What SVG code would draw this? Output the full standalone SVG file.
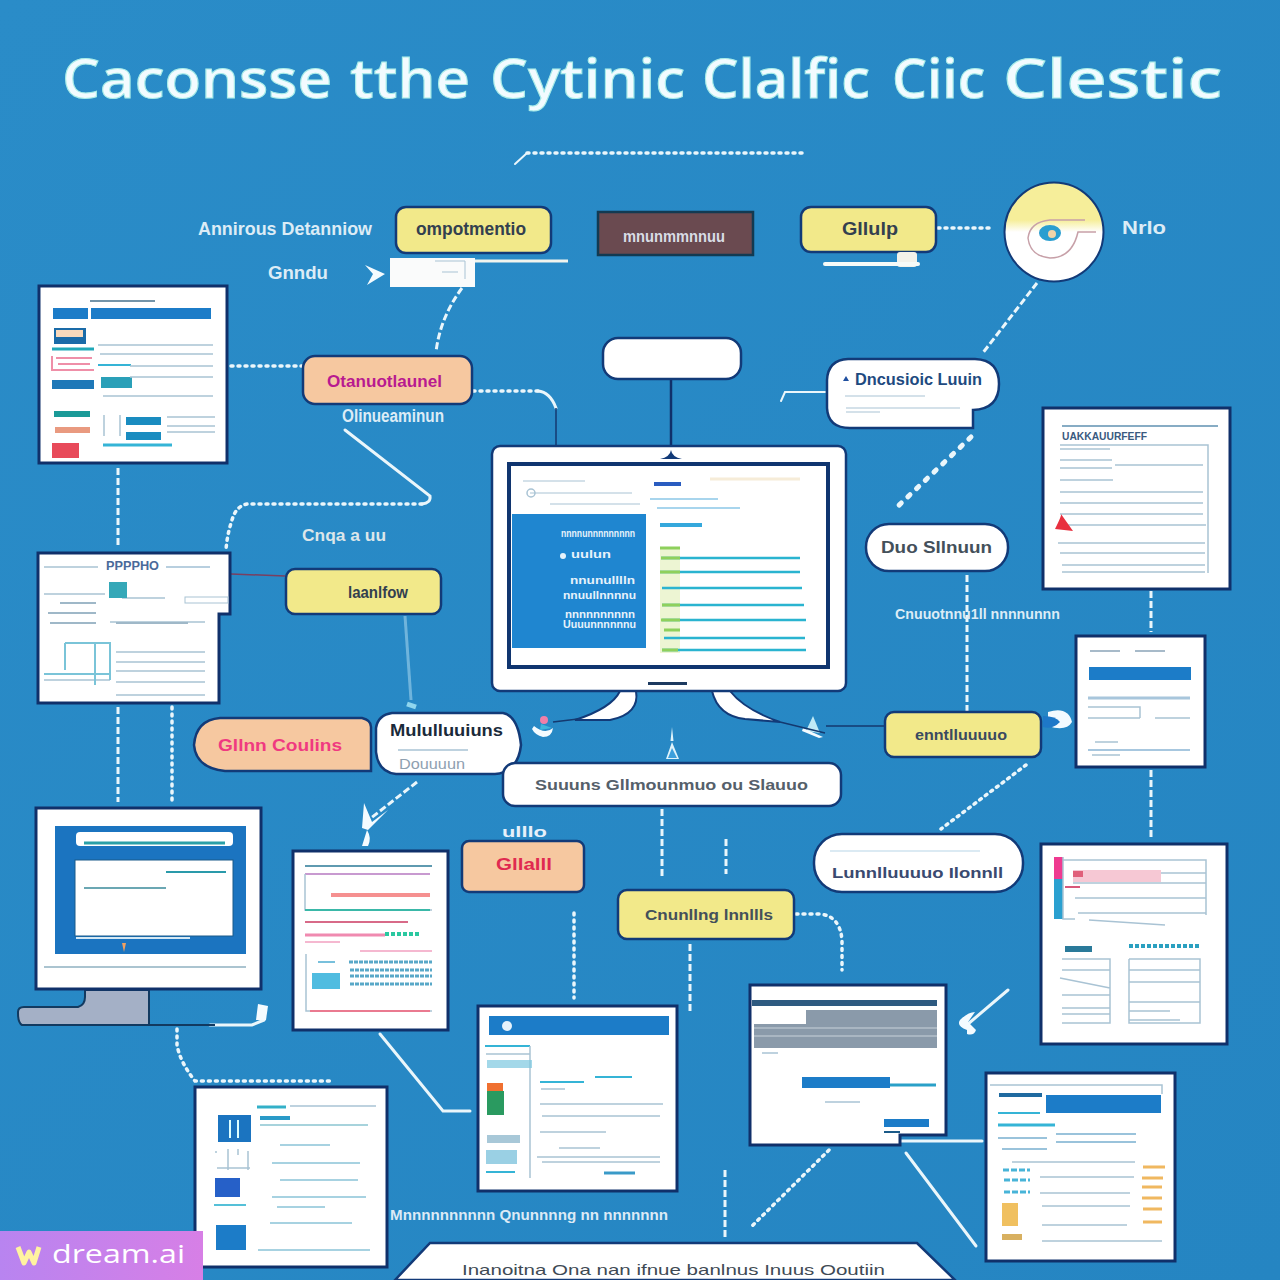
<svg xmlns="http://www.w3.org/2000/svg" width="1280" height="1280" viewBox="0 0 1280 1280">
<style>
text{font-family:"Liberation Sans","Open Sans",sans-serif}
.ttl{font-family:"Open Sans","Liberation Sans",sans-serif;font-size:54px;font-weight:600;fill:#f2fbff;stroke:#a8ece8;stroke-width:1px}
.lb{font-size:18px;font-weight:700;fill:#dcecf6}
.dk{font-size:18px;font-weight:700;fill:#33404f}
.doc{fill:#fff;stroke:#10306a;stroke-width:3}
.ln{stroke:#a9c3d4;stroke-width:1.5;fill:none}
.cy{stroke:#35b4d6;stroke-width:2;fill:none}
.pk{stroke:#ef8fa8;stroke-width:2;fill:none}
.bl{fill:#1c7cc8}
.yel{fill:#f2e98a;stroke:#123a78;stroke-width:2.5}
.org{fill:#f6c8a0;stroke:#123a78;stroke-width:2.5}
.wht{fill:#fff;stroke:#123a78;stroke-width:2.5}
.d{fill:none;stroke:#eaf6fb;stroke-width:3;stroke-dasharray:7 3}
.dt{fill:none;stroke:#eaf6fb;stroke-width:3.5;stroke-dasharray:2 5;stroke-linecap:round}
.dh{fill:none;stroke:#eaf6fb;stroke-width:5;stroke-dasharray:3 9;stroke-linecap:round}
.s{fill:none;stroke:#eaf6fb;stroke-width:3;stroke-linecap:round}
.t{fill:none;stroke:#14396f;stroke-width:1.5}
.w{fill:#f4fbff}
</style>
<defs>
<linearGradient id="bg" x1="0" y1="0" x2="1" y2="1"><stop offset="0" stop-color="#2a8cc8"/><stop offset="1" stop-color="#2585c2"/></linearGradient>
<linearGradient id="wm" x1="0" y1="0" x2="1" y2="0"><stop offset="0" stop-color="#b884f0"/><stop offset="1" stop-color="#d77fe6"/></linearGradient>
<linearGradient id="cir" x1="0" y1="0" x2="0" y2="1"><stop offset="0.38" stop-color="#f6ee9a"/><stop offset="0.5" stop-color="#fff"/></linearGradient>
</defs>
<rect width="1280" height="1280" fill="url(#bg)"/>

<g id="title">
<text class="ttl" x="62" y="98" textLength="270" lengthAdjust="spacingAndGlyphs">Caconsse</text>
<text class="ttl" x="350" y="98" textLength="120" lengthAdjust="spacingAndGlyphs">tthe</text>
<text class="ttl" x="490" y="98" textLength="195" lengthAdjust="spacingAndGlyphs">Cytinic</text>
<text class="ttl" x="702" y="98" textLength="168" lengthAdjust="spacingAndGlyphs">Clalfic</text>
<text class="ttl" x="892" y="98" textLength="93" lengthAdjust="spacingAndGlyphs">Ciic</text>
<text class="ttl" x="1003" y="98" textLength="219" lengthAdjust="spacingAndGlyphs">Clestic</text>
</g>

<g id="connectors">
<path class="s" d="M515,164 L527,153" style="stroke-width:2"/>
<path class="dt" d="M527,153 H806"/>
<path class="d" d="M462,288 Q440,318 436,352"/>
<path class="dt" d="M231,366 H302"/>
<path class="dt" d="M473,391 H538"/>
<path class="s" d="M538,391 Q550,392 556,408"/>
<path class="t" d="M556,408 V446"/>
<path d="M671,379 V452" fill="none" stroke="#10306a" stroke-width="2.5"/>
<path class="dt" d="M938,228 H992"/>
<path class="d" d="M1037,283 L982,354"/>
<path class="s" d="M781,401 L785,392 H825" style="stroke-width:2"/>
<path class="dh" d="M971,437 L896,508"/>
<path class="s" d="M345,430 L430,496 Q431,503 422,504"/>
<path class="dt" d="M422,504 H247 Q236,506 232,520 Q227,535 226,550"/>
<path class="d" d="M118,468 V545"/>
<path d="M231,574 Q260,575 285,576" fill="none" stroke="#7a3f60" stroke-width="1.5"/>
<path d="M405,616 L411,700" fill="none" stroke="#6fb4dc" stroke-width="3"/>
<path d="M407,704 L416,707" fill="none" stroke="#8fd6ee" stroke-width="5"/>
<path class="d" d="M118,707 V802"/>
<path class="dt" d="M172,707 V802"/>
<path class="d" d="M967,575 V711"/>
<path class="d" d="M1151,591 V632"/>
<path class="d" d="M1151,770 V838"/>
<path class="dt" d="M1026,765 L941,829"/>
<path class="d" d="M662,809 V878"/>
<path class="d" d="M726,839 V874"/>
<path class="dt" d="M796,914 H820 Q840,916 842,940 V970"/>
<path class="d" d="M690,944 V1013"/>
<path class="dt" d="M574,913 V998"/>
<path class="d" d="M417,782 L366,822"/>
<path class="dt" d="M177,1029 V1045 Q180,1062 195,1081 H330"/>
<path class="s" d="M380,1034 L443,1111 H470"/>
<path class="dt" d="M829,1150 L750,1228"/>
<path class="s" d="M906,1153 L976,1246"/>
<path class="d" d="M725,1170 V1238"/>
<path class="s" d="M900,1141 H982"/>
<path class="s" d="M1008,990 L968,1024"/>
<path class="s" d="M210,1025 H252 L264,1020"/>
</g>

<g id="ornaments">
<path class="w" d="M967,1030 Q956,1026 960,1020 Q968,1012 975,1012 L968,1022 L976,1030 Q974,1036 967,1034Z"/>
<path class="w" d="M364,803 L372,822 L388,810 L368,830 L362,828Z"/>
<path class="w" d="M367,830 Q372,838 368,846 L362,846Z"/>
<path class="w" d="M258,1004 L268,1006 L266,1020 L256,1020Z"/>
<path class="w" d="M365,265 L385,274 L367,285 L373,274Z"/>
<path class="w" d="M534,726 Q545,735 553,728 Q552,737 543,737 Q535,735 532,729Z"/>
<circle cx="544" cy="720" r="4" fill="#ef7fa8"/>
<path d="M541,724 L552,728 L540,730Z" fill="#3db6dc"/>
<path d="M813,716 L820,733 L806,731Z" fill="#bfeaf6"/>
<path class="w" d="M803,728 L823,737 L819,738 L802,731Z"/>
<path d="M672,727 l1.5,14 h-3Z M672,742 L679,759 H666Z" fill="#dff3fb"/>
<path d="M668,758 L672,748 L677,758Z" fill="#3c9fdc"/>
<path d="M1048,712 Q1068,706 1072,722 Q1066,732 1048,726Z" fill="#f4fbff"/>
<path d="M1043,716 Q1056,716 1060,722 Q1052,730 1043,727Z" fill="#1e78c8"/>
</g>

<g id="n-top-labels">
<text class="lb" x="198" y="235" textLength="174" lengthAdjust="spacingAndGlyphs">Annirous Detanniow</text>
<text class="lb" x="268" y="279" textLength="60" lengthAdjust="spacingAndGlyphs">Gnndu</text>
<text class="lb" x="1122" y="234" textLength="44" lengthAdjust="spacingAndGlyphs">Nrlo</text>
</g>

<g id="n-yellow-a"><rect class="yel" x="396" y="207" width="155" height="46" rx="10"/>
<text class="dk" x="416" y="235" textLength="110" lengthAdjust="spacingAndGlyphs">ompotmentio</text></g>
<g id="n-dark"><rect x="598" y="212" width="155" height="43" fill="#6a4a50" stroke="#123a52" stroke-width="2.5"/>
<text x="623" y="242" font-size="16" font-weight="700" fill="#d9dde6" textLength="102" lengthAdjust="spacingAndGlyphs">mnunmmnnuu</text></g>
<g id="n-note"><rect x="390" y="258" width="85" height="29" fill="#fafbfb"/>
<path d="M475,261 H568" stroke="#f0f4ee" stroke-width="3"/>
<path d="M435,261 H465 V279 M442,272 H458" class="ln" style="stroke-width:1"/></g>

<g id="n-yellow-b"><rect class="yel" x="801" y="207" width="135" height="45" rx="10"/>
<text class="dk" x="842" y="235" textLength="56" lengthAdjust="spacingAndGlyphs">Gllulp</text>
<rect x="897" y="252" width="20" height="15" rx="3" fill="#f2f2ea"/>
<path d="M825,264 H918" stroke="#f6fbf8" stroke-width="4" stroke-linecap="round"/></g>

<g id="n-eye"><circle cx="1054" cy="232" r="49.5" fill="url(#cir)" stroke="#123a78" stroke-width="2"/>
<path d="M1085,220 H1050 Q1030,222 1028,238 Q1030,256 1050,258 Q1072,258 1078,232 H1096" fill="none" stroke="#c7a0a8" stroke-width="1.5"/>
<ellipse cx="1050" cy="233" rx="11" ry="8" fill="#2a9ed0"/><circle cx="1052" cy="234" r="4" fill="#f2d4a8"/></g>

<g id="n-doc1"><rect class="doc" x="39" y="286" width="188" height="177"/>
<path d="M90,301 H155" class="ln" style="stroke:#44708c"/>
<rect class="bl" x="53" y="308" width="158" height="11"/><rect x="88" y="308" width="3" height="11" fill="#fff"/>
<rect x="54" y="328" width="32" height="16" fill="#1a6ba8"/><rect x="56" y="330" width="27" height="7" fill="#f8d9bc"/>
<path d="M52,349 H94" stroke="#1fa8b8" stroke-width="3"/><path d="M52,356 V370 H94 M56,358 H92 M58,364 H90" class="pk"/>
<rect x="52" y="380" width="42" height="9" fill="#1e78b8"/>
<rect x="101" y="377" width="31" height="11" fill="#2aa0b8"/>
<path d="M98,365 H131" class="cy"/>
<path d="M98,345 H213 M100,354 H213 M130,366 H213 M130,377 H213 M103,396 H213" class="ln"/>
<path d="M54,414 H90" stroke="#1a9a98" stroke-width="6"/><path d="M55,430 H90" stroke="#e99a80" stroke-width="6"/>
<rect x="52" y="443" width="27" height="15" fill="#e84a5a"/>
<rect x="126" y="417" width="35" height="8" fill="#1a8cc0"/><rect x="126" y="432" width="35" height="8" fill="#1a8cc0"/>
<path d="M104,415 V436 M120,415 V436" class="ln"/>
<path d="M103,445 H172" class="cy" style="stroke-width:3"/>
<path d="M167,417 H215 M167,426 H215 M167,432 H215" class="ln"/></g>

<g id="n-orange-a"><rect class="org" x="303" y="356" width="169" height="48" rx="12"/>
<text x="327" y="387" font-size="17" font-weight="700" fill="#b81a90" textLength="115" lengthAdjust="spacingAndGlyphs">Otanuotlaunel</text>
<text class="lb" x="342" y="422" textLength="102" lengthAdjust="spacingAndGlyphs">Olinueaminun</text></g>

<g id="n-pill-empty"><rect class="wht" x="603" y="338" width="138" height="41" rx="15"/></g>

<g id="n-monitor">
<path d="M620,691 Q612,708 575,720 L610,720 Q640,714 636,691Z" fill="#fff" stroke="#123a78" stroke-width="2"/>
<path d="M712,691 Q718,716 745,719 L780,722 Q745,710 730,691Z" fill="#fff" stroke="#123a78" stroke-width="2"/>
<path d="M553,722 L578,719 M780,722 L825,733 M826,726 H886" fill="none" stroke="#14396f" stroke-width="1.5"/>
<rect class="wht" x="492" y="446" width="354" height="245" rx="8"/>
<path d="M660,459 Q670,457 671,450 Q672,457 682,459Z" fill="#123a78"/>
<rect x="509" y="464" width="319" height="203" fill="#fff" stroke="#10356f" stroke-width="4"/>
<rect x="648" y="682" width="39" height="3" fill="#1d3a60"/>
<rect x="512" y="514" width="134" height="134" fill="#1f86d0"/>
<path d="M523,481 H585 M530,493 H632 M550,504 H640" class="ln" style="stroke-width:1"/>
<circle cx="531" cy="493" r="4" class="ln"/>
<path d="M654,484 H681" stroke="#2a5cc0" stroke-width="4"/>
<path d="M650,499 H718 M657,508 H740" stroke="#8cc8e8" stroke-width="1.5"/>
<path d="M660,525 H702" stroke="#35a8dc" stroke-width="4"/>
<path d="M710,479 H800" stroke="#f6ecd8" stroke-width="3"/>
<rect x="660" y="548" width="20" height="105" fill="#e8f2c8" opacity=".8"/>
<path d="M661,558 H800 M660,572 H800 M662,588 H802 M662,605 H804 M662,620 H806 M664,638 H805 M662,650 H806" stroke="#2ab4d0" stroke-width="2.5"/>
<path d="M660,548 H680 M661,558 H680 M660,572 H680 M662,605 H680 M661,620 H680 M664,630 H680 M662,650 H678" stroke="#8ed05c" stroke-width="3"/>
<g fill="#e6f2fb" font-size="11" font-weight="700">
<text x="561" y="537" textLength="74" lengthAdjust="spacingAndGlyphs">nnnnunnnnnnnnn</text>
<text x="571" y="558" textLength="40" lengthAdjust="spacingAndGlyphs">uulun</text>
<text x="570" y="584" textLength="65" lengthAdjust="spacingAndGlyphs">nnunulllln</text>
<text x="563" y="599" textLength="73" lengthAdjust="spacingAndGlyphs">nnuullnnnnu</text>
<text x="565" y="618" textLength="70" lengthAdjust="spacingAndGlyphs">nnnnnnnnnn</text>
<text x="563" y="628" textLength="73" lengthAdjust="spacingAndGlyphs">Uuuunnnnnnu</text>
<circle cx="563" cy="556" r="3"/></g>
</g>

<g id="n-callout"><path class="wht" d="M848,359 H975 Q999,360 999,384 Q999,409 973,410 V428 H850 Q828,428 827,408 V380 Q828,360 848,359Z"/>
<text x="855" y="385" font-size="16" font-weight="700" fill="#1e4a80" textLength="127" lengthAdjust="spacingAndGlyphs">Dncusioic Luuin</text>
<path d="M843,381 L846,376 L849,381Z" fill="#2050a0"/>
<path d="M845,396 H925 M846,408 H960 M846,412 H880" class="ln" style="stroke-width:1"/></g>

<g id="n-doc-r1"><rect class="doc" x="1043" y="408" width="187" height="181"/>
<path d="M1062,426 H1218" class="ln" style="stroke:#5f90b0"/>
<text x="1062" y="440" font-size="11" font-weight="700" fill="#3a5a80" textLength="85" lengthAdjust="spacingAndGlyphs">UAKKAUURFEFF</text>
<path d="M1060,445 H1208 V573 M1060,449 H1110 M1060,460 H1112 M1060,468 H1112 M1115,465 H1203 M1060,480 H1113 M1060,492 H1203 M1060,503 H1203 M1060,514 H1203 M1060,525 H1206 M1058,543 H1205 M1060,553 H1205 M1062,565 H1205 M1062,572 H1205" class="ln"/>
<path d="M1055,529 Q1062,515 1061,514 L1073,531Z" fill="#e8303f"/></g>

<g id="n-pill-duo"><rect class="wht" x="866" y="524" width="142" height="47" rx="23"/>
<text x="881" y="553" font-size="17" font-weight="700" fill="#44505a" textLength="111" lengthAdjust="spacingAndGlyphs">Duo Sllnuun</text></g>
<g id="n-lbl-r"><text class="lb" x="895" y="619" textLength="165" lengthAdjust="spacingAndGlyphs" style="font-size:14px">Cnuuotnnu1ll nnnnunnn</text></g>

<g id="n-doc-l2"><path class="doc" d="M38,553 H230 V614 H219 V703 H38Z"/>
<path d="M44,567 H98 M44,594 H105 M44,680 H110 M122,598 H165 M110,622 H205" class="ln"/>
<text x="106" y="570" font-size="12" font-weight="700" fill="#4a6a9a" textLength="53" lengthAdjust="spacingAndGlyphs">PPPPHO</text>
<path d="M166,567 H210" stroke="#b8cfdf" stroke-width="2"/>
<rect x="109" y="582" width="18" height="16" fill="#35a8b8"/>
<rect x="185" y="597" width="43" height="6" fill="#fff" stroke="#a9c3d4"/>
<path d="M60,603 H96 M48,613 H96 M50,623 H96 M116,623 H188" stroke="#9fb8c8" stroke-width="2"/>
<path d="M65,643 H110 V680 M65,643 V670 M95,643 V685 M44,674 H110" class="cy" style="stroke:#7ac4d8"/>
<path d="M116,652 H205 M116,662 H205 M116,671 H205 M116,682 H205 M116,695 H205" class="ln"/>
</g>

<g id="n-yellow-c"><rect class="yel" x="286" y="569" width="155" height="45" rx="9"/>
<text class="dk" x="348" y="598" textLength="60" lengthAdjust="spacingAndGlyphs" style="font-size:16px">laanlfow</text>
<text x="302" y="541" font-size="17" font-weight="700" fill="#dce6ea" textLength="84" lengthAdjust="spacingAndGlyphs">Cnqa a uu</text></g>

<g id="n-orange-b"><path class="org" d="M220,718 H362 Q371,720 371,727 V771 H225 Q196,768 194,745 Q196,720 220,718Z"/>
<text x="218" y="751" font-size="17" font-weight="700" fill="#f03a80" textLength="124" lengthAdjust="spacingAndGlyphs">Gllnn Coulins</text></g>

<g id="n-white-a"><path class="wht" d="M392,713 H503 Q518,716 521,745 Q518,772 495,774 H396 Q378,772 376,752 V728 Q378,715 392,713Z"/>
<text x="390" y="736" font-size="16" font-weight="700" fill="#1a2a3a" textLength="113" lengthAdjust="spacingAndGlyphs">Mululluuiuns</text>
<text x="399" y="769" font-size="15" fill="#8ea0b0" textLength="66" lengthAdjust="spacingAndGlyphs">Douuuun</text>
<path d="M398,750 H468" class="ln"/></g>

<g id="n-wide"><rect class="wht" x="503" y="763" width="338" height="43" rx="12"/>
<text x="535" y="790" font-size="15" font-weight="700" fill="#55606a" textLength="273" lengthAdjust="spacingAndGlyphs">Suuuns Gllmounmuo ou Slauuo</text></g>

<g id="n-yellow-d"><rect class="yel" x="885" y="712" width="156" height="45" rx="9"/>
<text x="915" y="740" font-size="15" font-weight="700" fill="#3a4a60" textLength="92" lengthAdjust="spacingAndGlyphs">enntlluuuuo</text></g>

<g id="n-doc-r2"><rect class="doc" x="1076" y="636" width="129" height="131"/>
<path d="M1090,651 H1120 M1135,651 H1165" stroke="#8aa4b8" stroke-width="1.5"/>
<rect class="bl" x="1089" y="667" width="102" height="13"/>
<path d="M1088,698 H1190" stroke="#a8c6dc" stroke-width="3"/>
<path d="M1088,707 H1140 V718 M1155,718 H1190 M1088,718 H1140 M1095,742 H1118 M1092,755 H1120" class="ln"/>
<path d="M1088,750 H1190" stroke="#8ab4d4" stroke-width="1.5"/></g>

<g id="n-monitor-l">
<path d="M85,990 H149 V1025 H22 Q18,1023 18,1013 V1012 Q18,1007 24,1007 H78 Q85,1005 85,997Z" fill="#a4b0c6" stroke="#123a60" stroke-width="2"/>
<path d="M149,1025 H215" stroke="#123a60" stroke-width="2"/>
<rect class="doc" x="36" y="808" width="225" height="181"/>
<rect x="55" y="826" width="191" height="128" fill="#1b74c0"/>
<rect x="76" y="832" width="157" height="14" rx="4" fill="#fff"/>
<path d="M84,843 H225" stroke="#2aa0a8" stroke-width="3"/>
<rect x="75" y="860" width="158" height="76" fill="#fff" stroke="#1a5a8a" stroke-width="1"/>
<path d="M166,872 H226" class="cy" style="stroke:#2a9aaa"/><path d="M84,888 H166" class="ln" style="stroke:#3a8a9a"/>
<path d="M76,938 H190" stroke="#d5e9f5" stroke-width="2"/>
<path d="M122,943 h4 l-2,9Z" fill="#f0a060"/>
<path d="M44,967 H246" stroke="#8fb0c0" stroke-width="1.5"/>
</g>

<g id="n-doc-c1"><rect class="doc" x="293" y="851" width="155" height="179"/>
<path d="M305,866 H432" stroke="#5f9ab0" stroke-width="2"/><path d="M305,874 H430" class="pk" style="stroke:#c89ad0"/>
<path d="M305,874 V910 H432" class="ln"/><path d="M305,910 H430" class="cy" style="stroke:#3ab8a8"/>
<path d="M331,895 H430" stroke="#f59090" stroke-width="4"/>
<path d="M305,922 H408" stroke="#d86a88" stroke-width="2"/>
<path d="M305,935 H385" stroke="#f08ab0" stroke-width="3"/>
<path d="M385,934 H420" stroke="#2ac8a0" stroke-width="4" stroke-dasharray="4 2"/>
<path d="M305,942 H340 M360,951 H432" class="pk" style="stroke:#f5b8d0"/>
<path d="M306,954 V1011 H432" class="ln"/>
<path d="M310,1011 H430" class="pk" style="stroke:#ea7a90"/>
<rect x="312" y="973" width="28" height="16" fill="#50bce0"/>
<path d="M349,962 H432 M350,970 H432 M350,976 H432 M350,984 H432" stroke="#58a8c8" stroke-width="3" stroke-dasharray="4 1"/>
<path d="M318,962 H335" stroke="#78c0dc" stroke-width="2"/></g>

<g id="n-orange-c"><rect class="org" x="462" y="841" width="122" height="51" rx="7"/>
<text x="496" y="870" font-size="17" font-weight="700" fill="#e02a50" textLength="56" lengthAdjust="spacingAndGlyphs">Gllalll</text>
<text x="502" y="837" font-size="14" font-weight="700" fill="#e6f0fa" textLength="45" lengthAdjust="spacingAndGlyphs">ulllo</text></g>

<g id="n-pill-c"><rect class="wht" x="814" y="834" width="209" height="58" rx="28"/>
<path d="M830,851 H980" stroke="#b7d5e8" stroke-width="1.2"/>
<text x="832" y="878" font-size="15" font-weight="700" fill="#3a4a70" textLength="171" lengthAdjust="spacingAndGlyphs">Lunnlluuuuo Ilonnll</text></g>

<g id="n-doc-r3"><rect class="doc" x="1041" y="844" width="186" height="200"/>
<rect x="1054" y="857" width="9" height="22" fill="#ef3a90"/><rect x="1054" y="879" width="9" height="40" fill="#2aa0d0"/>
<path d="M1063,857 V919 H1075 M1063,860 H1206 V915 M1073,873 H1206 M1073,883 H1206 M1075,898 H1206 M1078,913 H1206" class="ln"/>
<rect x="1073" y="870" width="88" height="12" fill="#f6c8d4"/><rect x="1073" y="871" width="10" height="6" fill="#e0607a"/>
<path d="M1065,887 H1080" stroke="#d8587a" stroke-width="2"/>
<path d="M1089,920 L1165,925" class="ln"/>
<rect x="1065" y="946" width="27" height="6" fill="#2a7a9a"/>
<path d="M1129,946 H1200" stroke="#2aa0c0" stroke-width="4" stroke-dasharray="4 2"/>
<path d="M1062,959 H1110 V1023 H1062 M1062,970 H1110 M1060,978 L1110,988 M1062,995 H1110 M1062,1008 H1110 M1062,1014 H1110" class="ln"/>
<path d="M1129,959 H1200 V1023 H1129 V959 M1129,970 H1200 M1129,982 H1200 M1129,1002 H1200 M1129,1011 H1170 M1129,1020 H1180" class="ln"/></g>

<g id="n-yellow-e"><rect class="yel" x="618" y="890" width="176" height="49" rx="9"/>
<text x="645" y="920" font-size="15" font-weight="700" fill="#44505a" textLength="128" lengthAdjust="spacingAndGlyphs">Cnunllng lnnllls</text></g>

<g id="n-doc-c2"><rect class="doc" x="478" y="1006" width="199" height="185"/>
<rect class="bl" x="489" y="1016" width="180" height="19"/>
<circle cx="507" cy="1026" r="5" fill="#e6f2fb"/>
<path d="M485,1046 H530" class="cy"/><path d="M486,1054 H530 M530,1046 V1178" class="ln"/>
<rect x="487" y="1060" width="45" height="8" fill="#7cc8e0" opacity=".7"/>
<rect x="487" y="1083" width="16" height="8" fill="#f07030"/><rect x="487" y="1091" width="17" height="24" fill="#2a9a60"/>
<rect x="487" y="1135" width="33" height="8" fill="#a8c8d8"/><rect x="486" y="1150" width="31" height="14" fill="#9ad0e4"/>
<path d="M486,1172 H515" class="cy"/>
<path d="M540,1082 H584 M595,1077 H632" class="cy"/>
<path d="M541,1089 H565 M540,1104 H663 M542,1116 H660 M540,1132 H606 M559,1148 H600 M537,1157 H660 M542,1162 H660" class="ln"/>
<path d="M604,1173 H635" stroke="#3a9ac8" stroke-width="3"/></g>

<g id="n-doc-c3"><path class="doc" d="M750,985 H946 V1135 H900 V1145 H750Z"/>
<rect x="752" y="1000" width="185" height="6" fill="#2e5a80"/>
<rect x="806" y="1010" width="131" height="14" fill="#8a9aaa"/>
<rect x="754" y="1024" width="183" height="24" fill="#8a9aaa"/>
<path d="M754,1028 H937 M754,1036 H937" stroke="#c8d2da" stroke-width="1"/>
<path d="M762,1053 H778" class="ln"/>
<rect x="802" y="1077" width="88" height="11" class="bl"/>
<path d="M890,1085 H936" stroke="#2aa0c8" stroke-width="3"/>
<path d="M825,1102 H860" class="ln"/>
<rect x="884" y="1119" width="45" height="8" class="bl"/>
<path d="M884,1132 H900" stroke="#1a5a88" stroke-width="2"/></g>

<g id="n-doc-r4"><rect class="doc" x="986" y="1073" width="189" height="188"/>
<path d="M990,1085 H1162 V1094" class="ln"/>
<rect class="bl" x="1046" y="1095" width="115" height="18"/>
<path d="M999,1095 H1042" stroke="#1f6aa0" stroke-width="4"/>
<path d="M998,1113 H1040" class="cy"/><path d="M998,1125 H1055" stroke="#35b4d6" stroke-width="3"/>
<path d="M998,1138 H1047 M1056,1134 H1136 M1056,1142 H1136 M1002,1149 H1047" class="ln" style="stroke:#7ab0d0"/>
<path d="M1012,1162 H1135 M1040,1177 H1134 M1040,1193 H1130 M1042,1206 H1130 M1042,1225 H1127 M1042,1241 H1162" class="ln"/>
<path d="M1003,1170 H1030 M1004,1180 H1030 M1004,1192 H1030" stroke="#48b4d8" stroke-width="3" stroke-dasharray="6 2"/>
<rect x="1002" y="1203" width="16" height="23" fill="#f0c060"/>
<rect x="1002" y="1234" width="20" height="6" fill="#d8b060"/>
<path d="M1143,1167 H1165 M1142,1178 H1163 M1142,1187 H1162 M1142,1198 H1162 M1143,1209 H1162 M1143,1222 H1162" stroke="#f0b860" stroke-width="3"/></g>

<g id="n-doc-bl"><rect class="doc" x="195" y="1087" width="192" height="180"/>
<rect x="218" y="1115" width="33" height="27" fill="#1b74c0"/><path d="M230,1120 V1138 M238,1120 V1138" stroke="#dff" stroke-width="2"/>
<path d="M257,1107 H286" stroke="#33b0c8" stroke-width="3"/><path d="M290,1106 H376" class="ln"/>
<path d="M260,1118 H290" stroke="#2a9ac8" stroke-width="4"/>
<path d="M260,1125 H368" stroke="#8ac4d0" stroke-width="1.5"/>
<path d="M280,1145 H330 M272,1163 H360 M280,1180 H358 M272,1197 H366 M277,1207 H325 M270,1223 H352 M258,1250 H370" class="ln" style="stroke:#8ac4d8"/>
<path d="M216,1151 V1153 M228,1149 V1170 M238,1149 V1155 M248,1151 V1170 M217,1168 H250" class="ln"/>
<rect x="215" y="1178" width="25" height="19" fill="#2660c8"/>
<path d="M214,1205 H246" stroke="#55c0d8" stroke-width="2"/>
<rect x="216" y="1225" width="30" height="25" class="bl"/></g>

<g id="n-lbl-b"><text x="390" y="1220" font-size="14" font-weight="700" fill="#dceaf6" textLength="278" lengthAdjust="spacingAndGlyphs">Mnnnnnnnnnn Qnunnnng nn nnnnnnn</text></g>

<g id="n-bottom"><path d="M395,1280 L430,1243 H917 L955,1280Z" fill="#fff" stroke="#123a78" stroke-width="2.5"/>
<text x="462" y="1275" font-size="15" fill="#404a54" textLength="423" lengthAdjust="spacingAndGlyphs">Inanoitna Ona nan ifnue banlnus Inuus Ooutiin</text></g>

<g id="watermark"><rect x="0" y="1231" width="203" height="49" fill="url(#wm)"/>
<path d="M18,1247 L24,1263 L29,1252 L34,1263 L39,1247" fill="none" stroke="#fff3a0" stroke-width="5" stroke-linejoin="round"/>
<text x="52" y="1263" font-size="25" fill="#fff" style="font-family:'Open Sans','Liberation Sans',sans-serif" textLength="133" lengthAdjust="spacingAndGlyphs">dream.ai</text></g>
</svg>
